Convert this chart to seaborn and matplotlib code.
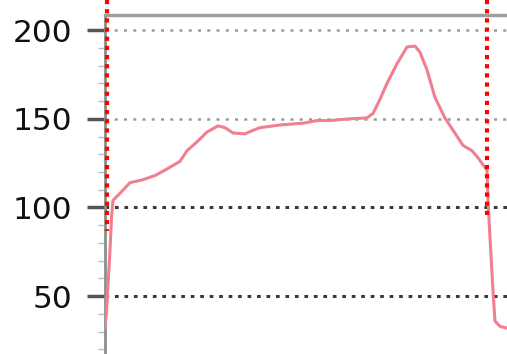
import matplotlib
matplotlib.use("Agg")
import matplotlib.pyplot as plt
import numpy as np
import pandas as pd
import seaborn as sns

# Temperature profile (time in s, temperature)
time_s = [0, 0.8, 2.5, 3.3, 4, 7.5, 12.5, 18.5, 25, 31.5, 37.5, 41, 46, 51,
          56.5, 60, 64, 70, 74, 77.5, 87.5, 99, 106, 112.5, 122.5, 131, 134,
          137.5, 141, 146, 151, 155, 157.5, 161, 165, 170, 174, 179, 183.5,
          186.5, 191, 191.5, 192.5, 194, 195, 197.5, 201]
temp = [32, 42, 76, 95, 104, 108, 114, 115.5, 118, 122, 126, 132, 137, 142.5,
        146, 145, 142, 141.5, 143.5, 145, 146.5, 147.5, 149, 149, 150, 150.5,
        153, 161, 170, 181, 190.5, 191, 187.5, 177.5, 162, 150.4, 143.6, 135,
        132, 128, 121, 104, 83, 53, 36, 33, 32]

# Window markers
window_start = 1
window_end = 191
window_start_low = 87
window_end_low = 94

y_ticks = [50, 100, 150, 200]
minor_ticks = list(range(20, 210, 10))

sns.set_style("white")
plt.rcParams["font.family"] = ["DejaVu Sans"]

fig = plt.figure(figsize=(5.07, 3.54), dpi=100)
ax = fig.add_axes([105 / 507, 0.0, 1 - 105 / 507, 1 - 15 / 354])
ax.set_xlim(0, 201)
ax.set_ylim(17.4, 208.5)

df = pd.DataFrame({"t": time_s, "T": temp})

# Gridlines: lighter at upper levels, darker at lower levels
for v in y_ticks:
    if v <= 100:
        ax.axhline(v, color="#3a3a3a", lw=2.2, ls=(0, (1.2, 1.9)), zorder=1)
    else:
        ax.axhline(v, color="#9a9a9a", lw=1.8, ls=(0, (1.2, 2.5)), zorder=1)

sns.lineplot(data=df, x="t", y="T", ax=ax, color="#f0808f", lw=2.2,
             zorder=3, sort=False)

# Vertical window markers, running up past the frame
top_val = 217
for xv, low in [(window_start, window_start_low), (window_end, window_end_low)]:
    ax.plot([xv, xv], [top_val, low], color="#ff0000", lw=3.0,
            ls=(0, (1.0, 1.2)), clip_on=False, zorder=4)

ax.set_yticks(y_ticks)
ax.set_yticks(minor_ticks, minor=True)
ax.set_yticklabels([str(v) for v in y_ticks], fontsize=22.5, color="#111111")
ax.tick_params(axis="y", which="major", direction="out", length=13,
               width=2.5, color="#555555", pad=10.5, left=True)
ax.tick_params(axis="y", which="minor", direction="out", length=5,
               width=1, color="#bbbbbb", left=True)
ax.set_xticks([])
ax.set_xlabel("")
ax.set_ylabel("")

for side in ["right", "bottom"]:
    ax.spines[side].set_visible(False)
ax.spines["left"].set_color("#8a8f8a")
ax.spines["left"].set_linewidth(2.0)
ax.spines["top"].set_color("#a0a0a0")
ax.spines["top"].set_linewidth(2.5)

fig.savefig("out.png", dpi=100)
